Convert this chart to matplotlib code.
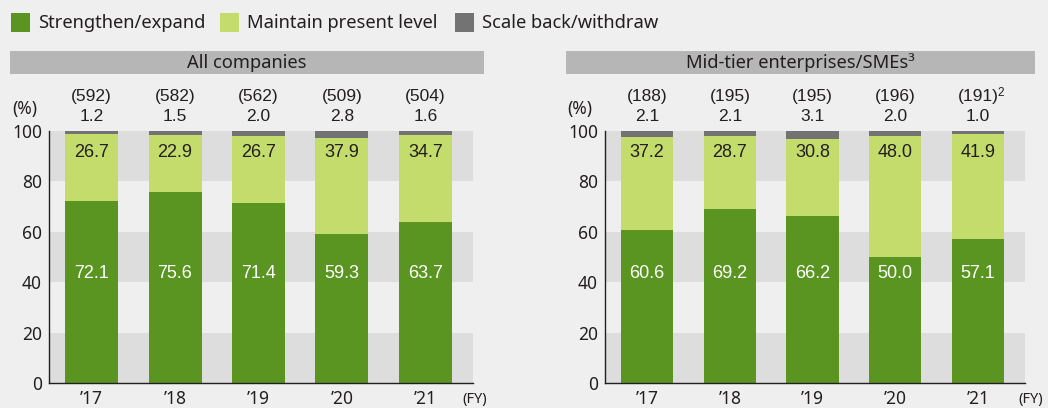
import numpy as np
import matplotlib.pyplot as plt
from matplotlib.patches import Rectangle

# data
years = ["\u201917", "\u201918", "\u201919", "\u201920", "\u201921"]

all_counts = [592, 582, 562, 509, 504]
all_strengthen = [72.1, 75.6, 71.4, 59.3, 63.7]
all_maintain = [26.7, 22.9, 26.7, 37.9, 34.7]
all_scale_back = [1.2, 1.5, 2.0, 2.8, 1.6]

sme_counts = [188, 195, 195, 196, 191]
sme_count_notes = ["", "", "", "", "2"]
sme_strengthen = [60.6, 69.2, 66.2, 50.0, 57.1]
sme_maintain = [37.2, 28.7, 30.8, 48.0, 41.9]
sme_scale_back = [2.1, 2.1, 3.1, 2.0, 1.0]

legend_labels = ["Strengthen/expand", "Maintain present level", "Scale back/withdraw"]

# style
BG = "#efefef"
BAND = "#dcdddc"
HEADER = "#b5b6b5"
DARK_GREEN = "#5a9421"
LIGHT_GREEN = "#c4dc6c"
GRAY = "#737373"
INK = "#231f20"
W, H = 1048, 408

plt.rcParams["font.family"] = ["Noto Sans", "DejaVu Sans"]
NUM_FONT = ["Liberation Sans", "DejaVu Sans"]

fig = plt.figure(figsize=(W / 100, H / 100), dpi=100, facecolor=BG)


def fx(px):
    return px / W


def fy(py):
    return 1 - py / H


def draw_panel(rect, title, header_box, counts, notes, strengthen, maintain, scale_back,
               pct_xy, fy_xy):
    ax = fig.add_axes(rect)
    ax.set_facecolor(BG)
    x = np.arange(len(years))
    ax.set_xlim(-0.51, 4.57)
    ax.set_ylim(0, 100)

    for lo in (0, 40, 80):
        ax.axhspan(lo, lo + 20, color=BAND, lw=0, zorder=0)

    s = np.array(strengthen)
    m = np.array(maintain)
    b = np.array(scale_back)
    width = 0.635
    ax.bar(x, s, width, color=DARK_GREEN, zorder=2)
    ax.bar(x, m, width, bottom=s, color=LIGHT_GREEN, zorder=2)
    ax.bar(x, b, width, bottom=s + m, color=GRAY, zorder=2)

    for i in range(len(x)):
        ax.text(x[i], 43.3, f"{s[i]:.1f}", ha="center", va="center", color="white",
                fontsize=13, family=NUM_FONT)
        ax.text(x[i], 91.4, f"{m[i]:.1f}", ha="center", va="center", color=INK,
                fontsize=13, family=NUM_FONT)
        ax.text(x[i], 105.8, f"{b[i]:.1f}", ha="center", va="center", color=INK,
                fontsize=12.5, family=NUM_FONT, clip_on=False)
        ax.text(x[i], 113.6, f"({counts[i]})", ha="center", va="center", color=INK,
                fontsize=12.5, family=NUM_FONT, clip_on=False)
        if notes[i]:
            ax.text(x[i] + 0.235, 115.0, notes[i], ha="left", va="center", color=INK,
                    fontsize=8.5, family=NUM_FONT, clip_on=False)

    ax.set_yticks([0, 20, 40, 60, 80, 100])
    ax.set_xticks(x)
    ax.set_xticklabels(years)
    ax.tick_params(axis="both", length=0, labelsize=12.5, colors=INK)
    ax.tick_params(axis="y", pad=5)
    ax.tick_params(axis="x", pad=5)
    for side in ("top", "right"):
        ax.spines[side].set_visible(False)
    for side in ("left", "bottom"):
        ax.spines[side].set_color(INK)
        ax.spines[side].set_linewidth(1.0)
        ax.spines[side].set_zorder(3)

    # header bar
    x0, y0, x1, y1 = header_box
    fig.patches.append(Rectangle((fx(x0), fy(y1)), fx(x1 - x0), (y1 - y0) / H,
                                 transform=fig.transFigure, color=HEADER, lw=0))
    fig.text(fx((x0 + x1) / 2), fy((y0 + y1) / 2), title, ha="center", va="center",
             fontsize=13.2, color=INK)

    fig.text(fx(pct_xy[0]), fy(pct_xy[1]), "(%)", ha="center", va="center",
             fontsize=12.5, color=INK)
    fig.text(fx(fy_xy[0]), fy(fy_xy[1]), "(FY)", ha="center", va="center",
             fontsize=10.5, color=INK)
    return ax


draw_panel([fx(49), fy(383), fx(473 - 49), (383 - 131) / H], "All companies",
           (10, 51, 484, 74), all_counts, [""] * 5,
           all_strengthen, all_maintain, all_scale_back, (25, 109), (475, 400))
draw_panel([fx(605), fy(383), fx(1025 - 605), (383 - 131) / H],
           "Mid-tier enterprises/SMEs\u00b3",
           (566, 51, 1035, 74), sme_counts, sme_count_notes,
           sme_strengthen, sme_maintain, sme_scale_back, (580, 109), (1031, 400))

# legend
legend_colors = [DARK_GREEN, LIGHT_GREEN, GRAY]
legend_x = [11, 220, 455]
for lx, col, lab in zip(legend_x, legend_colors, legend_labels):
    fig.patches.append(Rectangle((fx(lx), fy(32)), fx(19), 19 / H,
                                 transform=fig.transFigure, color=col, lw=0))
    fig.text(fx(lx + 27), fy(22.5), lab, ha="left", va="center", fontsize=13.2, color=INK)

fig.savefig("out.png", dpi=100, facecolor=BG)
